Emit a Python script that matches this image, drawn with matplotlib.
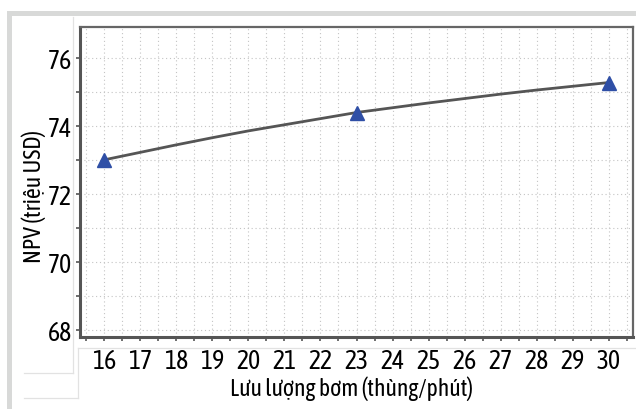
import numpy as np
import matplotlib.pyplot as plt
from matplotlib.lines import Line2D
from matplotlib.patches import Rectangle
from matplotlib.ticker import MultipleLocator

# data
pump_rate = [16, 23, 30]
npv = [73.0, 74.39, 75.27]

# smooth trend curve read at each integer pump rate
curve_x = [16, 17, 18, 19, 20, 21, 22, 23, 24, 25, 26, 27, 28, 29, 30]
curve_y = [73.00, 73.22, 73.44, 73.65, 73.85, 74.03, 74.21, 74.39,
           74.53, 74.67, 74.80, 74.93, 75.05, 75.16, 75.27]

x_ticks = list(range(16, 31))
y_ticks = [68, 70, 72, 74, 76]

plt.rcParams['font.family'] = ['Asap Condensed', 'DejaVu Sans']

fig = plt.figure(figsize=(6.36, 4.10), dpi=100)
W, H = 636, 410

# outer light grey frame (screenshot panel)
fig.add_artist(Rectangle((7 / W, 1 - 17 / H), 1, 5 / H, transform=fig.transFigure,
                         color='#d8d9d8', lw=0))
fig.add_artist(Rectangle((7 / W, 0), 5 / W, 1 - 12 / H, transform=fig.transFigure,
                         color='#d8d9d8', lw=0))

# faint panel lines
faint = '#e2e2e2'
for xs, ys in [([78, 636], [349, 349]), ([78, 78], [349, 399]),
               ([24, 78], [399, 399]), ([24, 73], [374, 374]),
               ([73, 73], [18, 374])]:
    fig.add_artist(Line2D([x / W for x in xs], [1 - y / H for y in ys],
                          transform=fig.transFigure, color=faint, lw=0.9))

ax = fig.add_axes([80 / W, 1 - 338 / H, 553 / W, 310 / H])

ax.plot(curve_x, curve_y, color='#555555', lw=2.0, zorder=3)
ax.plot(pump_rate, npv, linestyle='none', marker='^', markersize=10,
        color='#2f4fa6', zorder=4)

ax.set_xlim(15.33, 30.67)
ax.set_ylim(67.8, 76.9)
ax.set_xticks(x_ticks)
ax.set_yticks(y_ticks)
ax.xaxis.set_minor_locator(MultipleLocator(0.5))
ax.yaxis.set_minor_locator(MultipleLocator(1))

ax.grid(which='major', color='#c4c4c4', lw=0.8, linestyle=(0, (1, 2.5)))
ax.grid(which='minor', color='#c4c4c4', lw=0.8, linestyle=(0, (1, 2.5)))
ax.set_axisbelow(True)

ax.tick_params(axis='both', which='both', direction='out', color='#555555',
               length=3, width=1.2, labelsize=18.5)
ax.tick_params(axis='x', which='major', pad=5)
ax.tick_params(axis='y', which='major', pad=3)

for side in ['left', 'bottom']:
    ax.spines[side].set_color('#555555')
    ax.spines[side].set_linewidth(2.2)
for side in ['top', 'right']:
    ax.spines[side].set_color('#666666')
    ax.spines[side].set_linewidth(1.6)

ax.set_xlabel('Lưu lượng bơm (thùng/phút)', fontsize=17, va='center')
ax.set_ylabel('NPV (triệu USD)', fontsize=17, va='center')
ax.xaxis.set_label_coords(0.491, -0.163)
ax.yaxis.set_label_coords(-0.083, 0.455)

fig.savefig('out.png', dpi=100)
